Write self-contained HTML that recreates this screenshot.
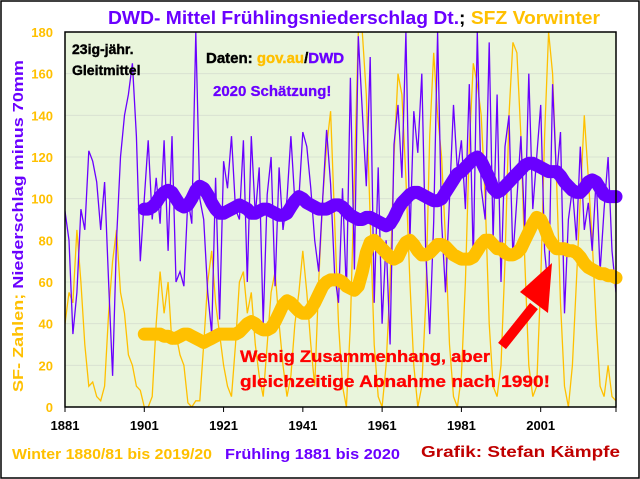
<!DOCTYPE html>
<html><head><meta charset="utf-8"><style>
html,body{margin:0;padding:0;background:#fff;}
svg{display:block;font-family:"Liberation Sans",Arial,sans-serif;font-weight:bold;}
</style></head><body>
<svg id="chart" width="640" height="479" viewBox="0 0 640 479" xmlns="http://www.w3.org/2000/svg">
<rect x="1" y="1" width="638" height="477" fill="#fff" stroke="#000" stroke-width="1.5"/>
<rect x="65" y="32" width="551" height="375" fill="#e9f5dc"/>
<g id="grid"></g>
<g id="series"></g>
<rect x="65" y="32" width="551" height="375" fill="none" stroke="#000" stroke-width="1.5"/>
<g id="axes"></g>
<text x="108" y="24" font-size="18" textLength="492" lengthAdjust="spacingAndGlyphs"><tspan fill="#6a00ff">DWD- Mittel Frühlingsniederschlag Dt.</tspan><tspan fill="#000">; </tspan><tspan fill="#ffc000">SFZ Vorwinter</tspan></text>
<text transform="translate(23,392) rotate(-90)" font-size="15" textLength="332" lengthAdjust="spacingAndGlyphs"><tspan fill="#ffc000">SF- Zahlen; </tspan><tspan fill="#6a00ff">Niederschlag minus 70mm</tspan></text>
<text x="72" y="54" font-size="14" fill="#000" stroke="#000" stroke-width="0.4">23ig-jähr.</text>
<text x="72" y="75" font-size="14" fill="#000" stroke="#000" stroke-width="0.4">Gleitmittel</text>
<text x="206" y="63" font-size="15" stroke-width="0.4"><tspan fill="#000" stroke="#000">Daten: </tspan><tspan fill="#ffc000" stroke="#ffc000">gov.au</tspan><tspan fill="#000" stroke="#000">/</tspan><tspan fill="#6a00ff" stroke="#6a00ff">DWD</tspan></text>
<text x="213" y="96" font-size="15" fill="#6a00ff" stroke="#6a00ff" stroke-width="0.3">2020 Schätzung!</text>
<text x="240" y="362" font-size="17" fill="#ff0000" stroke="#ff0000" stroke-width="0.3" textLength="250" lengthAdjust="spacingAndGlyphs">Wenig Zusammenhang, aber</text>
<text x="240" y="387" font-size="17" fill="#ff0000" stroke="#ff0000" stroke-width="0.3" textLength="310" lengthAdjust="spacingAndGlyphs">gleichzeitige Abnahme nach 1990!</text>
<g>
<line x1="502" y1="346" x2="534" y2="306" stroke="#ff0000" stroke-width="10"/>
<polygon points="552,263 520,292 548,313" fill="#ff0000"/>
</g>
<text x="12" y="459" font-size="15" fill="#ffc000" textLength="200" lengthAdjust="spacingAndGlyphs">Winter 1880/81 bis 2019/20</text>
<text x="225" y="459" font-size="15" fill="#6a00ff" textLength="175" lengthAdjust="spacingAndGlyphs">Frühling 1881 bis 2020</text>
<text x="421" y="457" font-size="16" fill="#c00000" textLength="199" lengthAdjust="spacingAndGlyphs">Grafik: Stefan Kämpfe</text>
</svg>
<script>
const startYear = 1881;
const smoothStart = 1901;
const xTicks = ["1881","1901","1921","1941","1961","1981","2001"];
const yTicks = [0,20,40,60,80,100,120,140,160,180];
const springRain = [94,80,35,55,95,85,123,118,108,85,
108,60,15,80,120,140,150,165,130,70,
100,128,90,110,88,128,75,130,60,65,
58,100,88,180,100,90,55,35,110,42,
118,105,130,95,90,128,60,130,92,115,
40,102,120,58,115,85,100,130,98,100,
132,125,105,80,65,100,133,107,64,50,
105,55,158,66,178,142,106,168,50,115,
40,80,30,126,145,110,180,80,142,122,
160,75,35,89,180,89,55,100,145,113,
128,95,155,70,180,105,90,175,80,150,
60,125,140,72,100,130,85,160,95,120,
145,75,55,155,110,132,45,90,105,80,
125,85,98,75,110,65,95,120,75,55];
const winterSF = [40,55,50,85,60,30,10,12,5,3,
10,45,70,85,55,45,25,20,10,8,
0,0,5,40,65,45,60,30,35,25,
20,2,0,3,3,30,60,75,50,35,
20,10,5,30,60,65,45,55,30,15,
5,30,55,65,40,20,5,15,40,55,
75,55,30,10,60,100,125,142,90,40,
10,0,40,110,180,180,150,90,30,5,
0,20,60,120,160,150,110,60,20,0,
10,50,130,170,140,120,80,30,5,0,
15,60,125,165,155,140,100,40,10,5,
20,70,140,175,170,130,70,20,5,10,
60,130,180,160,110,50,10,0,20,60,
100,140,110,80,40,10,5,20,5,3];
const springSmooth = [95,95,96,98,101,103,104,103,100,97,
96,97,100,104,106,105,102,98,95,93,
93,94,95,96,97,96,95,93,93,94,
95,95,94,93,92,92,93,96,99,101,
100,98,97,96,95,95,95,96,97,97,
96,94,92,91,90,90,91,91,90,89,
88,87,88,91,95,98,100,102,103,103,
102,101,100,99,99,100,103,106,109,112,
113,115,117,119,120,118,114,110,105,103,
104,106,108,110,112,114,116,117,117,116,
115,114,113,113,113,111,108,106,104,103,
103,105,108,109,108,105,102,101,101,101];
const winterSmooth = [35,35,35,35,35,34,34,33,33,34,
35,35,34,33,32,31,32,33,34,35,
35,35,35,35,36,38,40,41,40,38,
37,37,38,41,45,49,51,50,48,46,
45,45,47,50,54,58,60,61,61,61,
60,58,57,56,58,65,74,79,80,78,
76,74,72,71,72,76,79,80,78,75,
73,73,74,76,78,78,77,75,73,72,
71,71,71,72,75,78,80,80,78,76,
76,74,73,73,74,76,80,84,88,91,
90,86,81,78,76,76,76,75,75,74,
72,69,67,66,65,64,64,63,63,62];

const NS = "http://www.w3.org/2000/svg";
const L = 65, R = 616, T = 32, B = 407;
const X = yr => L + (yr - 1881) * (R - L) / 139;
const Y = v => B - Math.min(v, 180) * (B - T) / 180;
function mk(tag, attrs, parent) {
  const el = document.createElementNS(NS, tag);
  for (const k in attrs) el.setAttribute(k, attrs[k]);
  parent.appendChild(el);
  return el;
}
const grid = document.getElementById('grid');
const axes = document.getElementById('axes');
const series = document.getElementById('series');
yTicks.forEach(v => {
  if (v > 0 && v < 180) {
    const g = mk('line', {x1: L, x2: R, y1: Y(v), y2: Y(v), stroke: '#d9e2d2', 'stroke-width': 1}, grid);
    
    
  }
  const t = mk('text', {x: 53, y: Y(v) + 5, 'text-anchor': 'end', 'font-size': 13, fill: '#ffc000'}, axes);
  t.textContent = v;
  
  
});
xTicks.forEach(s => {
  const yr = +s;
  const tk = mk('line', {x1: X(yr), x2: X(yr), y1: B, y2: B + 5, stroke: '#000', 'stroke-width': 1}, axes);
  
  
  const t = mk('text', {x: X(yr), y: B + 23, 'text-anchor': 'middle', 'font-size': 13, fill: '#000'}, axes);
  t.textContent = s;
  
  
});
const endTick = mk('line', {x1: R, x2: R, y1: B, y2: B + 5, stroke: '#000'}, axes);


function pts(arr, y0) { return arr.map((v, i) => X(y0 + i).toFixed(1) + ',' + Y(v).toFixed(1)).join(' '); }
const cp = mk('clipPath', {id: 'clip'}, series);
mk('rect', {x: L, y: T, width: R - L, height: B - T}, cp);
const w = mk('polyline', {points: pts(winterSF, startYear), fill: 'none', stroke: '#ffc000', 'stroke-width': 1.3, 'clip-path': 'url(#clip)'}, series);


const s = mk('polyline', {points: pts(springRain, startYear), fill: 'none', stroke: '#6a00ff', 'stroke-width': 1.3, 'clip-path': 'url(#clip)'}, series);


const ss = mk('polyline', {points: pts(springSmooth, smoothStart), fill: 'none', stroke: '#6a00ff', 'stroke-width': 13, 'stroke-linejoin': 'round', 'stroke-linecap': 'round'}, series);


const ws = mk('polyline', {points: pts(winterSmooth, smoothStart), fill: 'none', stroke: '#ffc000', 'stroke-width': 13, 'stroke-linejoin': 'round', 'stroke-linecap': 'round'}, series);


</script>
</body></html>
